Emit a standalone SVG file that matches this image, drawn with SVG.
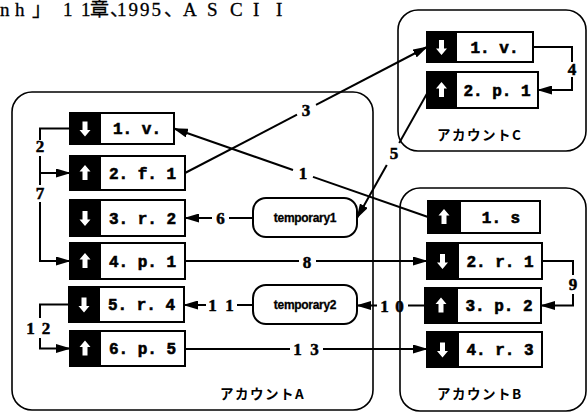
<svg xmlns="http://www.w3.org/2000/svg" width="588" height="414" viewBox="0 0 588 414">
<style>
.acct{fill:none;stroke:#000;stroke-width:1.6}
.blk{fill:#000;stroke:#000;stroke-width:2}
.wht{fill:#fff;stroke:#000;stroke-width:2}
.lbl{font-family:"Liberation Mono",monospace;font-weight:bold;font-size:16px;text-anchor:middle;fill:#000;stroke:#000;stroke-width:0.6}
.tmp{fill:#fff;stroke:#000;stroke-width:2}
.ttxt{font-family:"Liberation Sans",Arial,sans-serif;font-weight:bold;font-size:12px;text-anchor:middle;letter-spacing:-0.3px;stroke:#000;stroke-width:0.3}
.conn path{fill:none;stroke:#000;stroke-width:2}
.arrow{marker-end:url(#ah)}
.num{font-family:"Liberation Serif",serif;font-weight:bold;font-size:17px;text-anchor:middle;stroke:#000;stroke-width:0.5}
.acc{font-family:"Noto Sans CJK JP",sans-serif;font-weight:bold;font-size:13.5px;letter-spacing:1.5px}
.title{font-family:"Liberation Serif","Noto Sans CJK JP",serif;font-size:19px;stroke:#000;stroke-width:0.3}
.ico{fill:#fff}
</style>
<defs>
<marker id="ah" markerUnits="userSpaceOnUse" markerWidth="15" markerHeight="9" refX="14" refY="4.5" orient="auto">
<path d="M0,0 L15,4.5 L0,9 z" fill="#000"/>
</marker>
<polygon id="up" class="ico" points="0,-8 5.5,-1.5 2.5,-1.5 2.5,7 -2.5,7 -2.5,-1.5 -5.5,-1.5"/>
<polygon id="down" class="ico" points="0,8 5.5,1.5 2.5,1.5 2.5,-7 -2.5,-7 -2.5,1.5 -5.5,1.5"/>
</defs>
<rect width="588" height="414" fill="#fff"/>

<text class="title" y="16" x="0 15 32 63 81 90 110 117 128.5 140 151.5 164 183 207 230 253 276">nh」11章、1995、ASCII</text>

<g id="accountA">
<rect class="acct" x="12" y="92" width="361" height="318" rx="20"/>
<text class="acc" x="220" y="399">アカウントA</text>
</g>
<g id="accountC">
<rect class="acct" x="398" y="10" width="188" height="141" rx="20"/>
<text class="acc" x="437" y="140">アカウントC</text>
</g>
<g id="accountB">
<rect class="acct" x="400" y="188" width="186" height="223" rx="20"/>
<text class="acc" x="437" y="399">アカウントB</text>
</g>

<g id="connectors" class="conn">
<path d="M428,217 L313,176.9"/>
<path class="arrow" d="M293,170 L174,128.5"/>
<path d="M70,128.5 H40 V140"/>
<path class="arrow" d="M40,156 V173 H70"/>
<path d="M185,173 L297,114.7"/>
<path class="arrow" d="M316,104.8 L427,47"/>
<path d="M533,47 H572 V62"/>
<path class="arrow" d="M572,77 V90 H538"/>
<path d="M429,90 L399.2,143"/>
<path class="arrow" d="M386.8,165 L357,218"/>
<path d="M253,218 H229"/>
<path class="arrow" d="M212,218 H185"/>
<path d="M40,173 V185"/>
<path class="arrow" d="M40,202 V261 H70"/>
<path d="M185,261 H299"/>
<path class="arrow" d="M316,261 H427"/>
<path d="M542,261 H573 V275"/>
<path class="arrow" d="M573,294 V305.5 H541"/>
<path d="M425,305.5 H408"/>
<path class="arrow" d="M377,305.5 H357"/>
<path d="M253,305 H237"/>
<path class="arrow" d="M206,305 H184"/>
<path d="M69,304.5 H40 V318"/>
<path class="arrow" d="M40,338 V348.5 H70"/>
<path d="M185,349 H290"/>
<path class="arrow" d="M323,349 H427"/>
<text class="num" x="303" y="179">1</text>
<text class="num" x="40" y="152">2</text>
<text class="num" x="306" y="115.5">3</text>
<text class="num" x="572" y="75">4</text>
<text class="num" x="394" y="159">5</text>
<text class="num" x="220.5" y="224">6</text>
<text class="num" x="40" y="199">7</text>
<text class="num" x="307" y="267.5">8</text>
<text class="num" x="573" y="290">9</text>
<text class="num" x="384.5 399.5" y="311.5">10</text>
<text class="num" x="212.5 229.5" y="310.5">11</text>
<text class="num" x="30.5 46" y="334">12</text>
<text class="num" x="297.5 314.5" y="355">13</text>
</g>

<g id="A1"><rect class="blk" x="70" y="113" width="30" height="31"/><use href="#down" x="85" y="128.5"/><rect class="wht" x="100" y="113" width="74" height="31"/><text class="lbl" x="137" y="134">1. v.</text></g>
<g id="A2"><rect class="blk" x="70" y="156" width="30" height="34"/><use href="#up" x="85" y="173"/><rect class="wht" x="100" y="156" width="85" height="34"/><text class="lbl" x="142.5" y="178.5">2. f. 1</text></g>
<g id="A3"><rect class="blk" x="70" y="200" width="30" height="36"/><use href="#down" x="85" y="218"/><rect class="wht" x="100" y="200" width="85" height="36"/><text class="lbl" x="142.5" y="223.5">3. r. 2</text></g>
<g id="A4"><rect class="blk" x="70" y="243" width="30" height="36"/><use href="#up" x="85" y="261"/><rect class="wht" x="100" y="243" width="85" height="36"/><text class="lbl" x="142.5" y="266.5">4. p. 1</text></g>
<g id="A5"><rect class="blk" x="69" y="287" width="30" height="35"/><use href="#down" x="84" y="304.5"/><rect class="wht" x="99" y="287" width="85" height="35"/><text class="lbl" x="141.5" y="310">5. r. 4</text></g>
<g id="A6"><rect class="blk" x="70" y="331" width="30" height="35"/><use href="#up" x="85" y="348.5"/><rect class="wht" x="100" y="331" width="85" height="35"/><text class="lbl" x="142.5" y="354">6. p. 5</text></g>

<g id="C1"><rect class="blk" x="427" y="32" width="29" height="30"/><use href="#down" x="441.5" y="47"/><rect class="wht" x="456" y="32" width="77" height="30"/><text class="lbl" x="494.5" y="52.5">1. v.</text></g>
<g id="C2"><rect class="blk" x="427" y="72" width="29" height="36"/><use href="#up" x="441.5" y="90"/><rect class="wht" x="456" y="72" width="82" height="36"/><text class="lbl" x="497" y="95.5">2. p. 1</text></g>

<g id="B1"><rect class="blk" x="428" y="201" width="32" height="32"/><use href="#up" x="444" y="217"/><rect class="wht" x="460" y="201" width="80" height="32"/><text class="lbl" x="501" y="222.5">1. s</text></g>
<g id="B2"><rect class="blk" x="427" y="243" width="31" height="36"/><use href="#down" x="442.5" y="261"/><rect class="wht" x="458" y="243" width="84" height="36"/><text class="lbl" x="500" y="266.5">2. r. 1</text></g>
<g id="B3"><rect class="blk" x="425" y="288" width="32" height="35"/><use href="#up" x="441" y="305.5"/><rect class="wht" x="457" y="288" width="84" height="35"/><text class="lbl" x="499" y="311">3. p. 2</text></g>
<g id="B4"><rect class="blk" x="427" y="332" width="31" height="35"/><use href="#down" x="442.5" y="349.5"/><rect class="wht" x="458" y="332" width="84" height="35"/><text class="lbl" x="500" y="355">4. r. 3</text></g>

<g id="temporary1"><rect class="tmp" x="253" y="198" width="104" height="39" rx="13"/><text class="ttxt" x="305" y="222">temporary1</text></g>
<g id="temporary2"><rect class="tmp" x="253" y="285" width="104" height="39" rx="13"/><text class="ttxt" x="305" y="309">temporary2</text></g>
</svg>
